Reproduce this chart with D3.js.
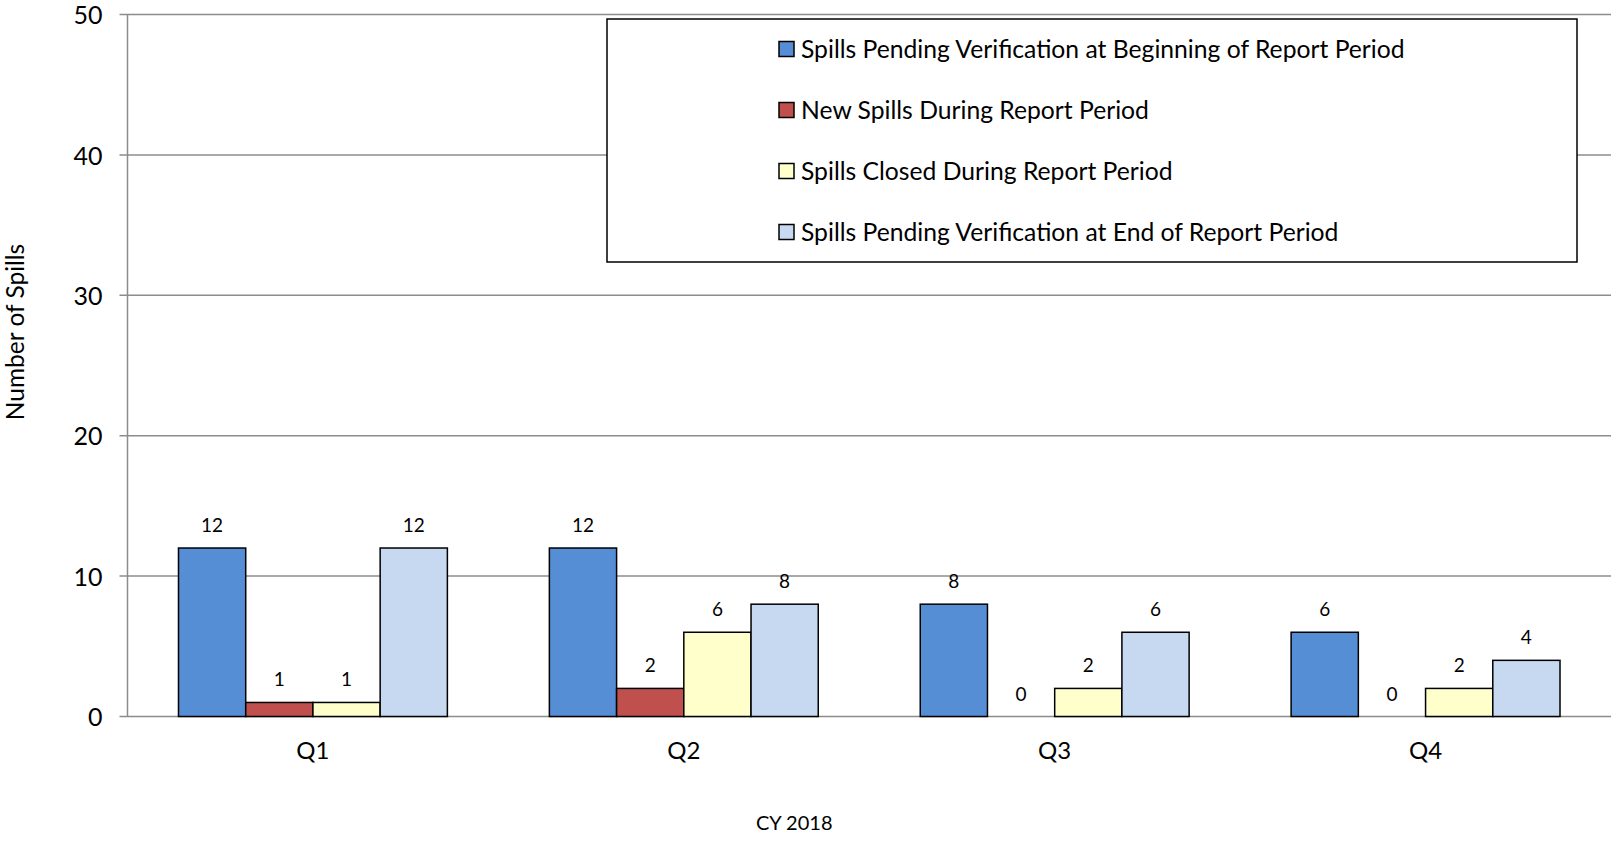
<!DOCTYPE html>
<html>
<head>
<meta charset="utf-8">
<script src="https://cdn.jsdelivr.net/npm/d3@7"></script>
<style>
  html, body { margin: 0; padding: 0; background: #fff; }
  svg { display: block; font-family: Lato, "Open Sans", sans-serif; }
</style>
</head>
<body>
<svg id="chart" width="1617" height="841"></svg>
<script>
const categories = ["Q1", "Q2", "Q3", "Q4"];
const seriesNames = [
  "Spills Pending Verification at Beginning of Report Period",
  "New Spills During Report Period",
  "Spills Closed During Report Period",
  "Spills Pending Verification at End of Report Period"
];
const beginValues = [12, 12, 8, 6];
const newValues = [1, 2, 0, 0];
const closedValues = [1, 6, 2, 2];
const endValues = [12, 8, 6, 4];
const seriesColors = ["#558ED5", "#C0504D", "#FFFFCC", "#C6D9F1"];
const yTicks = [0, 10, 20, 30, 40, 50];
const xAxisTitle = "CY 2018";
const yAxisTitle = "Number of Spills";

const seriesValues = [beginValues, newValues, closedValues, endValues];

const svg = d3.select("#chart");
const margin = { left: 127.5, right: 6, top: 14.5, bottom: 124.5 };
const W = 1617, H = 841;

const x0 = d3.scaleBand().domain(categories)
  .range([margin.left, W - margin.right])
  .paddingInner(0.275).paddingOuter(0.1375);
const x1 = d3.scaleBand().domain(d3.range(seriesNames.length))
  .range([0, x0.bandwidth()]);
const y = d3.scaleLinear().domain([0, 50]).range([H - margin.bottom, margin.top]);

// gridlines
svg.append("g").selectAll("line").data(yTicks).join("line")
  .attr("x1", margin.left - 8).attr("x2", W - margin.right)
  .attr("y1", d => y(d)).attr("y2", d => y(d))
  .attr("stroke", "#8c8c8c").attr("stroke-width", 1.5);

// y axis line
svg.append("line")
  .attr("x1", margin.left).attr("x2", margin.left)
  .attr("y1", y(0)).attr("y2", y(50))
  .attr("stroke", "#8c8c8c").attr("stroke-width", 1.5);

// y tick labels
svg.append("g").selectAll("text").data(yTicks).join("text")
  .attr("x", margin.left - 25).attr("y", d => y(d) + 1)
  .attr("dy", "0.35em").attr("text-anchor", "end")
  .attr("font-size", 25).attr("fill", "#000")
  .text(d => d);

// bars
const groups = svg.append("g").selectAll("g").data(categories).join("g")
  .attr("transform", d => `translate(${x0(d)},0)`);

groups.selectAll("rect")
  .data((c, ci) => seriesValues.map((vals, si) => ({ si, v: vals[ci] })))
  .join("rect")
  .attr("x", d => x1(d.si)).attr("width", x1.bandwidth())
  .attr("y", d => y(d.v)).attr("height", d => y(0) - y(d.v))
  .attr("fill", d => seriesColors[d.si])
  .attr("stroke", d => d.v > 0 ? "#000" : "none").attr("stroke-width", 1.5);

groups.selectAll("text")
  .data((c, ci) => seriesValues.map((vals, si) => ({ si, v: vals[ci] })))
  .join("text")
  .attr("x", d => x1(d.si) + x1.bandwidth() / 2)
  .attr("y", d => y(d.v) - 16)
  .attr("text-anchor", "middle").attr("font-size", 19).attr("fill", "#000")
  .text(d => d.v);

// category labels
svg.append("g").selectAll("text").data(categories).join("text")
  .attr("x", d => x0(d) + x0.bandwidth() / 2).attr("y", 759)
  .attr("text-anchor", "middle").attr("font-size", 24).attr("fill", "#000")
  .text(d => d);

// x axis title
svg.append("text").attr("x", (margin.left + W - margin.right) / 2 - 75).attr("y", 830)
  .attr("text-anchor", "middle").attr("font-size", 20).text(xAxisTitle);

// y axis title
svg.append("text")
  .attr("transform", `translate(24,332) rotate(-90)`)
  .attr("text-anchor", "middle").attr("font-size", 24.5).text(yAxisTitle);

// legend
const legend = svg.append("g");
legend.append("rect")
  .attr("x", 607).attr("y", 19).attr("width", 970).attr("height", 243)
  .attr("fill", "#fff").attr("stroke", "#000").attr("stroke-width", 1.5);
const items = legend.selectAll("g.item").data(seriesNames).join("g")
  .attr("class", "item")
  .attr("transform", (d, i) => `translate(779,${49 + i * 61})`);
items.append("rect").attr("x", 0).attr("y", -7.5).attr("width", 15).attr("height", 15)
  .attr("fill", (d, i) => seriesColors[i]).attr("stroke", "#000").attr("stroke-width", 1.5);
items.append("text").attr("x", 22).attr("dy", "0.36em")
  .attr("font-size", 24.7).attr("fill", "#000").text(d => d);
</script>
</body>
</html>
